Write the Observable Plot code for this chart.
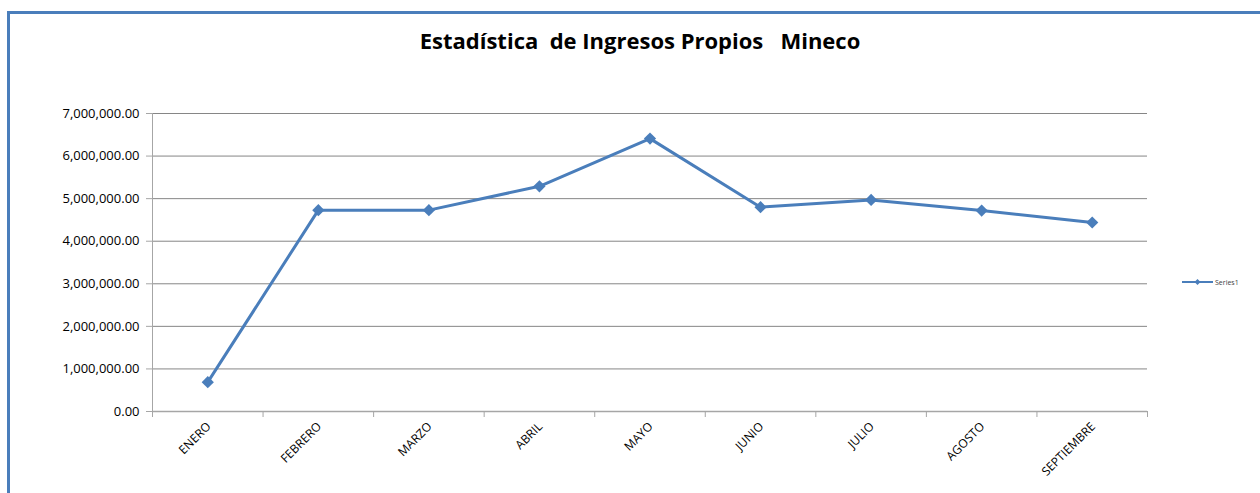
<!DOCTYPE html>
<html>
<head>
<meta charset="utf-8">
<script src="https://cdn.jsdelivr.net/npm/d3@7"></script>
<script src="https://cdn.jsdelivr.net/npm/@observablehq/plot@0.6"></script>
<style>
  html, body { margin: 0; padding: 0; background: #fff; overflow: hidden; }
  #wrap { position: relative; width: 1260px; height: 493px; font-family: "Open Sans", sans-serif; }
  #border { position: absolute; left: 7px; top: 11px; width: 1300px; height: 600px; border-left: 3px solid #4a7ebb; border-top: 3px solid #4a7ebb; box-sizing: border-box; }
  #title { position: absolute; left: 0; top: 25px; width: 1280px; text-align: center; font-weight: bold; font-size: 22px; color: #000; white-space: pre; }
  #chart { position: absolute; left: 0; top: 0; }
  #legend { position: absolute; left: 1182px; top: 277px; font-size: 7px; color: #404040; display: flex; align-items: center; gap: 2px; }
</style>
</head>
<body>
<div id="wrap">
  <div id="chart"></div>
  <div id="border"></div>
  <div id="title">Estadística  de Ingresos Propios   Mineco</div>
  <div id="legend">
    <svg width="31" height="10"><line x1="0" y1="5" x2="31" y2="5" stroke="#4a7ebb" stroke-width="2"/><path d="M15.5,2 L18.5,5 L15.5,8 L12.5,5 Z" fill="#4a7ebb"/></svg>
    <span>Series1</span>
  </div>
</div>
<script>
const months = ["ENERO", "FEBRERO", "MARZO", "ABRIL", "MAYO", "JUNIO", "JULIO", "AGOSTO", "SEPTIEMBRE"];
const values = [690000, 4730000, 4730000, 5290000, 6410000, 4800000, 4970000, 4720000, 4440000];
const yTicks = [0, 1000000, 2000000, 3000000, 4000000, 5000000, 6000000, 7000000];
const seriesName = "Series1";

const data = months.map((m, i) => ({month: m, pos: i + 0.5, value: values[i], series: seriesName}));
const boundaries = d3.range(months.length + 1);
const fmt = d3.format(",.2f");
const blue = "#4a7ebb";
const grid = "#868686";

const chart = Plot.plot({
  width: 1260,
  height: 493,
  marginLeft: 152,
  marginRight: 113,
  marginTop: 113,
  marginBottom: 82,
  style: {fontFamily: "Open Sans, sans-serif", fontSize: "12px", color: "#000", background: "transparent"},
  x: {type: "linear", domain: [0, months.length]},
  y: {domain: [0, 7000000]},
  marks: [
    Plot.ruleY(yTicks, {stroke: grid, strokeWidth: 1}),
    Plot.ruleX([0], {stroke: "#a6a6a6", strokeWidth: 1}),
    Plot.ruleY([0], {stroke: "#a6a6a6", strokeWidth: 1.5}),
    Plot.axisY({ticks: yTicks, tickFormat: fmt, tickSize: 6, tickPadding: 7, stroke: "#a6a6a6", label: null, fontSize: 13}),
    Plot.axisX({ticks: boundaries, tickFormat: () => "", tickSize: 6, stroke: "#a6a6a6", label: null}),
    Plot.text(data, {x: "pos", y: () => 0, text: "month", rotate: -45, textAnchor: "end", dy: 13, dx: 1, fontSize: 12, fill: "#000"}),
    Plot.line(data, {x: "pos", y: "value", stroke: blue, strokeWidth: 3}),
    Plot.dot(data, {x: "pos", y: "value", symbol: "diamond2", r: 5.5, fill: blue, stroke: null})
  ]
});
document.getElementById("chart").appendChild(chart);
</script>
</body>
</html>
